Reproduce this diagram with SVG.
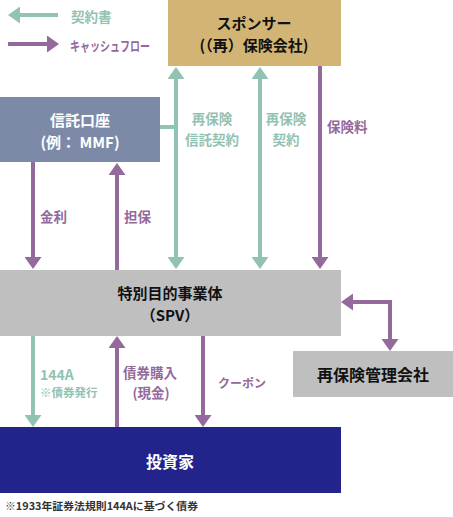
<svg xmlns="http://www.w3.org/2000/svg" width="453" height="517" viewBox="0 0 453 517">
<defs>
<marker id="hg" markerUnits="userSpaceOnUse" viewBox="0 0 12 17" refX="4" refY="8.5" markerWidth="12" markerHeight="17" orient="auto-start-reverse"><path d="M0,0 L12,8.5 L0,17 Z" fill="#92C2B2"/></marker>
<marker id="hp" markerUnits="userSpaceOnUse" viewBox="0 0 12 17" refX="4" refY="8.5" markerWidth="12" markerHeight="17" orient="auto-start-reverse"><path d="M0,0 L12,8.5 L0,17 Z" fill="#936A9B"/></marker>
</defs>
<style>
text{font-family:"Noto Sans CJK JP","Noto Sans",sans-serif;dominant-baseline:central}
.g{stroke:#92C2B2;stroke-width:4;fill:none}
.p{stroke:#936A9B;stroke-width:4;fill:none}
.lg{fill:#92C2B2;font-size:13.5px;font-weight:700}
.lp{fill:#936A9B;font-size:13.5px;font-weight:700}
.bt{font-size:15px;font-weight:700;text-anchor:middle}
</style>
<rect width="453" height="517" fill="#fff"/>
<g id="legend">
<line class="g" x1="16" y1="15" x2="58" y2="15" marker-start="url(#hg)"/>
<text class="lg" x="71" y="16">契約書</text>
<line class="p" x1="8" y1="44" x2="51" y2="44" marker-end="url(#hp)"/>
<text class="lp" x="70" y="45" textLength="80" lengthAdjust="spacingAndGlyphs">キャッシュフロー</text>
</g>
<g id="connectors">
<polyline class="g" points="160,127 176,127"/>
<line class="g" x1="176" y1="75" x2="176" y2="261" marker-start="url(#hg)" marker-end="url(#hg)"/>
<line class="g" x1="260" y1="75" x2="260" y2="261" marker-start="url(#hg)" marker-end="url(#hg)"/>
<line class="p" x1="320" y1="66" x2="320" y2="261" marker-end="url(#hp)"/>
<line class="p" x1="33" y1="162" x2="33" y2="261" marker-end="url(#hp)"/>
<line class="p" x1="117" y1="270" x2="117" y2="171" marker-end="url(#hp)"/>
<polyline class="p" points="349,302 390,302 390,343" marker-start="url(#hp)" marker-end="url(#hp)"/>
<line class="g" x1="33" y1="336" x2="33" y2="419" marker-end="url(#hg)"/>
<line class="p" x1="117" y1="427" x2="117" y2="344" marker-end="url(#hp)"/>
<line class="p" x1="203" y1="336" x2="203" y2="419" marker-end="url(#hp)"/>
<text class="lg" x="212" y="118" text-anchor="middle">再保険</text>
<text class="lg" x="212" y="139" text-anchor="middle">信託契約</text>
<text class="lg" x="286" y="118" text-anchor="middle">再保険</text>
<text class="lg" x="286" y="139" text-anchor="middle">契約</text>
<text class="lp" x="327" y="126">保険料</text>
<text class="lp" x="40" y="216">金利</text>
<text class="lp" x="124" y="216">担保</text>
<text class="lg" x="40" y="374" style="font-size:14px">144A</text>
<text class="lg" x="40" y="392" style="font-size:11.5px">※債券発行</text>
<text class="lp" x="150" y="372" text-anchor="middle">債券購入</text>
<text class="lp" x="151" y="392" text-anchor="middle">(現金)</text>
<text class="lp" x="218" y="382" style="font-size:12px">クーポン</text>
</g>
<g id="sponsor">
<rect x="168" y="0" width="173" height="66" fill="#D2B574"/>
<text class="bt" x="254" y="22" fill="#111">スポンサー</text>
<text class="bt" x="254" y="44.5" fill="#111">(（再）保険会社)</text>
</g>
<g id="trust">
<rect x="0" y="97" width="160" height="65" fill="#7C8AA8"/>
<text class="bt" x="80" y="119" fill="#fff">信託口座</text>
<text class="bt" x="80" y="141.5" fill="#fff">(例： MMF)</text>
</g>
<g id="spv">
<rect x="0" y="270" width="341" height="66" fill="#BFBFBF"/>
<text class="bt" x="170" y="292" fill="#111">特別目的事業体</text>
<text class="bt" x="170" y="314.5" fill="#111">（SPV）</text>
</g>
<g id="reins-mgmt">
<rect x="293" y="351" width="160" height="46" fill="#BFBFBF"/>
<text class="bt" x="373" y="374" fill="#111" style="font-size:16px">再保険管理会社</text>
</g>
<g id="investor">
<rect x="0" y="427" width="341" height="66" fill="#22238B"/>
<text class="bt" x="170" y="461" fill="#fff" style="font-size:16px">投資家</text>
</g>
<text x="5" y="505" style="font-size:10.5px;font-weight:700" fill="#333" textLength="193" lengthAdjust="spacingAndGlyphs">※1933年証券法規則144Aに基づく債券</text>
</svg>
